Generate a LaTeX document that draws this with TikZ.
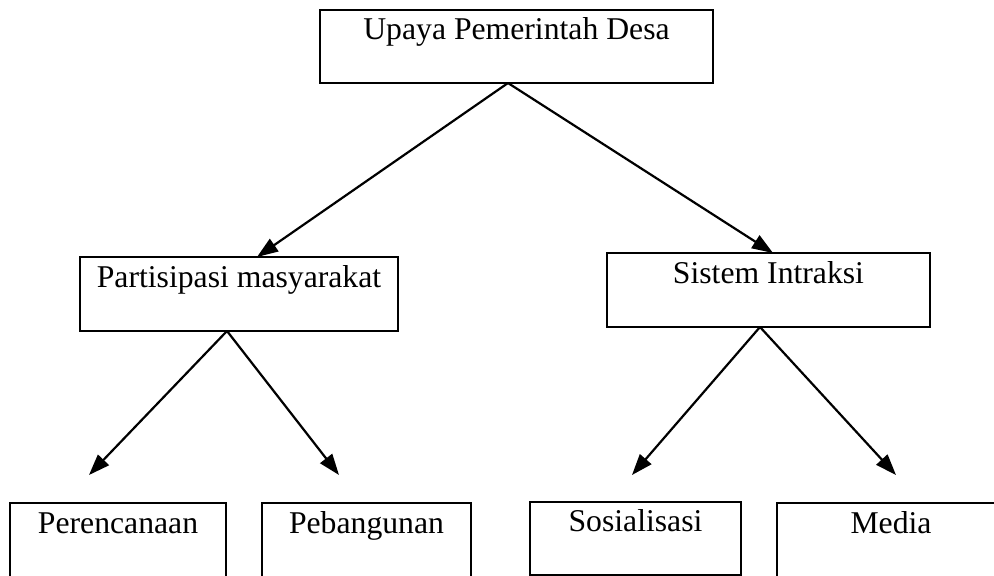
\documentclass[tikz,border=0pt]{standalone}
\usepackage{fontspec}
\setmainfont{Liberation Serif}
\usetikzlibrary{arrows.meta}
\begin{document}
\begin{tikzpicture}[x=1pt,y=-1pt,
  box/.style={draw=black, line width=2.4pt, minimum width=#1, inner sep=0pt, outer sep=0pt},
  lbl/.style={anchor=base, inner sep=0pt, font=\fontsize{31.7}{38}\selectfont},
  conn/.style={line width=2.2pt, -{Triangle[length=21pt,width=15pt]}}]
\useasboundingbox (0,0) rectangle (994,576);
\clip (0,0) rectangle (994,576);
% boxes
\node[box=393pt, minimum height=73pt] (top) at (516.5,46.5) {};
\node[box=318pt, minimum height=74pt] (part) at (239,294) {};
\node[box=323pt, minimum height=74pt] (sist) at (768.5,290) {};
\node[box=216pt, minimum height=90pt] (pere) at (118,548) {};
\node[box=209pt, minimum height=90pt] (peba) at (366.5,548) {};
\node[box=211pt, minimum height=73pt] (sosi) at (635.5,538.5) {};
\node[box=228pt, minimum height=90pt] (medi) at (891,548) {};
% labels
\node[lbl] (ttop) at ([yshift=-29pt]top.north) {Upaya Pemerintah Desa};
\node[lbl] (tpart) at ([yshift=-30pt]part.north) {Partisipasi masyarakat};
\node[lbl] (tsist) at ([yshift=-30pt]sist.north) {Sistem Intraksi};
\node[lbl] (tpere) at ([yshift=-30pt]pere.north) {Perencanaan};
\node[lbl] (tpeba) at ([yshift=-30pt]peba.north) {Pebangunan};
\node[lbl] (tsosi) at ([yshift=-29pt]sosi.north) {Sosialisasi};
\node[lbl] (tmedi) at ([yshift=-30pt]medi.north) {Media};
% connection points
\coordinate (topS) at ([xshift=-8.5pt]top.south);
\coordinate (partN) at ([xshift=18pt]part.north);
\coordinate (sistN) at ([xshift=4.5pt]sist.north);
\coordinate (partS) at ([xshift=-12pt]part.south);
\coordinate (sistS) at ([xshift=-8.5pt]sist.south);
\coordinate (a1) at (89,475);
\coordinate (a2) at (339,475);
\coordinate (a3) at (632,475);
\coordinate (a4) at (896,475);
% connectors
\draw[conn] (topS) -- (partN);
\draw[conn] (topS) -- (sistN);
\draw[conn] (partS) -- (a1);
\draw[conn] (partS) -- (a2);
\draw[conn] (sistS) -- (a3);
\draw[conn] (sistS) -- (a4);
\end{tikzpicture}
\end{document}
